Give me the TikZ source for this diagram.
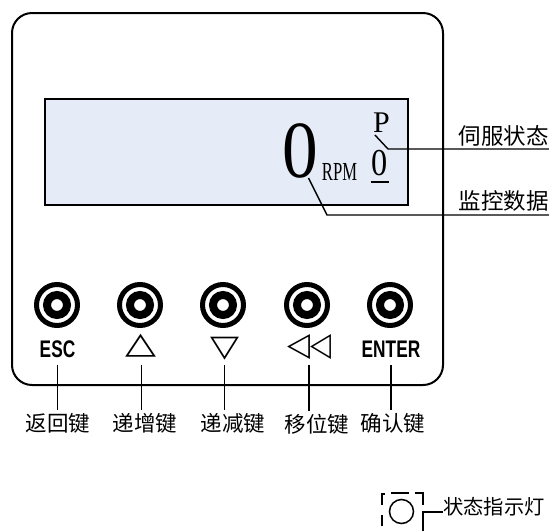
\documentclass[tikz,border=0pt]{standalone}
\usepackage{fontspec}
\usepackage{graphicx}
\setmainfont{Liberation Serif}
\setsansfont{Liberation Sans}
\newfontfamily\cjkfont{Noto Sans CJK SC}
\newfontfamily\symfont{DejaVu Sans}
\usetikzlibrary{positioning}
\definecolor{PanelInk}{HTML}{000000}
\definecolor{LcdBlue}{HTML}{E6ECF7}
\newcommand{\narrowtext}[2]{\scalebox{#1}[1]{#2}}

\begin{document}
\begin{tikzpicture}[
  x=1pt,y=-1pt,
  panel/.style={draw=PanelInk,line width=2pt,rounded corners=20pt,
    minimum width=431pt,minimum height=372pt,inner sep=0pt},
  lcd/.style={draw=PanelInk,fill=LcdBlue,line width=1.5pt,
    minimum width=363pt,minimum height=106pt,inner sep=0pt},
  keyring/.style={circle,draw=PanelInk,line width=5pt,minimum size=41pt,inner sep=0pt},
  keycore/.style={circle,draw=PanelInk,line width=8pt,minimum size=20pt,inner sep=0pt},
  lamp/.style={circle,draw=PanelInk,line width=1.5pt,minimum size=24pt,inner sep=0pt},
  keytag/.style={font=\sffamily\bfseries\fontsize{24}{24}\selectfont,inner sep=0pt},
  keysym/.style={font=\symfont,inner sep=0pt},
  readout/.style={font=\rmfamily,inner sep=0pt},
  callout/.style={font=\cjkfont\fontsize{21.5}{21.5}\selectfont,inner sep=0pt},
  leader/.style={draw=PanelInk,line width=1.4pt}
]
  \useasboundingbox (0,0) rectangle (549,531);

  \node[panel] (panel) at (227.5,199) {};
  \node[lcd] (lcd) at (226.5,152) {};

  \node[readout,font=\rmfamily\fontsize{81}{81}\selectfont] (bigzero) at (300.5,150.5) {\narrowtext{0.88}{0}};
  \node[readout,font=\rmfamily\fontsize{26}{26}\selectfont] (rpm) at (339.5,171.5) {\narrowtext{0.64}{RPM}};
  \node[readout,font=\rmfamily\fontsize{30}{30}\selectfont] (ptxt) at (381.5,123) {P};
  \node[readout,font=\rmfamily\fontsize{38}{38}\selectfont] (subzero) at (380,163) {\narrowtext{0.85}{0}};
  \draw[line width=2pt] ([xshift=-1pt,yshift=-6pt]subzero.south west) -- ([xshift=1pt,yshift=-6pt]subzero.south east);

  \node[callout,font=\cjkfont\fontsize{22.5}{22.5}\selectfont,anchor=south east] (statecall) at (549,147) {伺服状态};
  \node[callout,font=\cjkfont\fontsize{22.5}{22.5}\selectfont,anchor=south east] (monitorcall) at (549,212) {监控数据};
  \coordinate (pbend) at (388,149);
  \coordinate (zerobend) at (327,215);
  \draw[leader] ([xshift=2pt,yshift=-2pt]ptxt.south west) -- (pbend) -- ([yshift=-2pt]statecall.south east);
  \draw[leader] ([xshift=8pt]bigzero.south) -- (zerobend) -- ([yshift=-3pt]monitorcall.south east);

  \foreach \k/\kx in {esc/57,up/140,down/223,shift/307,enter/390} {
    \node[keyring] (\k) at (\kx,305) {};
    \node[keycore] at (\k) {};
  }

  \node[keytag] (esc-tag) at (57.5,349) {\narrowtext{0.72}{ESC}};
  \node[keysym] (up-tag) at (141.5,345.5) {\resizebox*{31pt}{23pt}{△}};
  \node[keysym] (down-tag) at (224.5,348.5) {\resizebox*{29pt}{23pt}{▽}};
  \node[keysym] (shift-tag) at (309,347) {\resizebox*{23pt}{25pt}{◁}\kern0pt\resizebox*{21pt}{25pt}{◁}};
  \node[keytag] (enter-tag) at (391,349.5) {\narrowtext{0.72}{ENTER}};

  \node[callout,anchor=north] (esc-call) at (58,413) {返回键};
  \node[callout,anchor=north] (up-call) at (145,413) {递增键};
  \node[callout,anchor=north] (down-call) at (233,413) {递减键};
  \node[callout,anchor=north] (shift-call) at (317,414) {移位键};
  \node[callout,anchor=north] (enter-call) at (393,413) {确认键};

  \foreach \k in {esc,up,down,shift,enter}
    \draw[leader] (\k-tag.south |- 0,365) -- ([yshift=3pt]\k-tag.south |- \k-call.north);

  \node[lamp] (lamp) at (401.5,511.5) {};
  \draw[leader] (385,494) -- (382,494) -- (382,505);
  \draw[leader] (382,515) -- (382,526);
  \draw[leader] (391,493) -- (409,493);
  \draw[leader] (415,493) -- (423,493) -- (423,505);
  \node[callout,font=\cjkfont\fontsize{20.3}{20.3}\selectfont,anchor=west] (lampcall) at (443,507) {状态指示灯};
  \draw[leader] (423,531) |- ([yshift=-5pt]lampcall.west);
\end{tikzpicture}
\end{document}
